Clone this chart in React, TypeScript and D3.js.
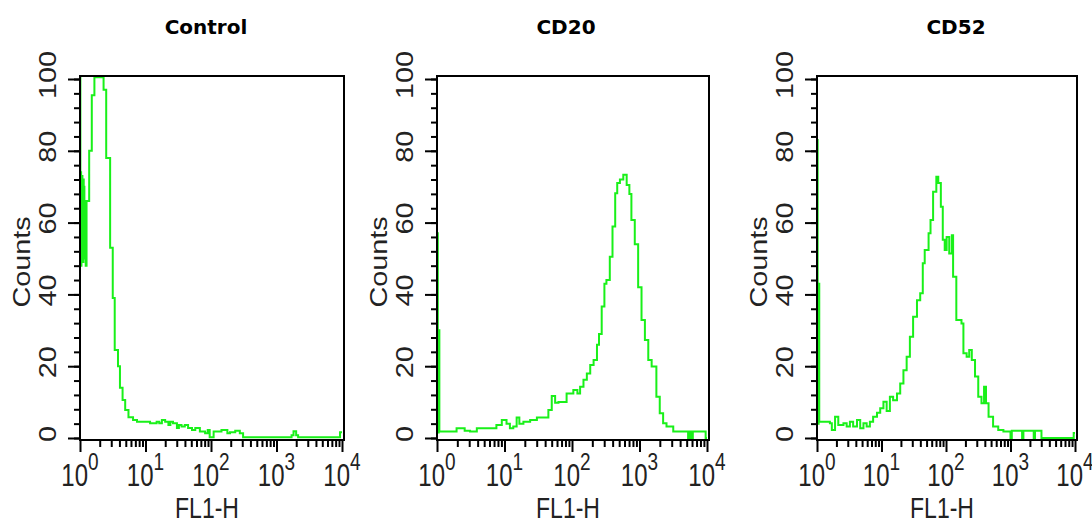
import React, { useEffect, useRef } from "react";
import * as d3 from "d3";

// FL1-H histograms, x in decades (log10), y in counts
const titles = ["Control", "CD20", "CD52"];

const controlLog = [0, 0, 0.006, 0.012, 0.017, 0.022, 0.027, 0.032, 0.037, 0.042, 0.047, 0.052, 0.057, 0.062, 0.067, 0.072, 0.077, 0.082, 0.087, 0.1, 0.14, 0.18, 0.22, 0.36, 0.4, 0.46, 0.5, 0.53, 0.58, 0.61, 0.65, 0.69, 0.74, 0.81, 0.87, 0.94, 1.07, 1.17, 1.21, 1.25, 1.3, 1.35, 1.38, 1.42, 1.48, 1.51, 1.55, 1.6, 1.65, 1.71, 1.76, 1.83, 1.91, 1.95, 1.98, 2.04, 2.16, 2.25, 2.29, 2.37, 2.44, 2.49, 3.23, 3.26, 3.3, 3.33, 3.97, 4];
const controlCounts = [0, 120, 62, 74, 48, 70, 55, 73, 52, 68, 49, 72, 56, 70, 50, 66, 53, 62, 48, 66, 80, 95.5, 100.5, 97, 78, 53, 39, 24.5, 20, 14, 10.6, 7.8, 5.8, 5, 4.5, 4.5, 4.1, 4.5, 4.1, 5, 4.5, 3.6, 4.5, 4.1, 2.8, 3.6, 3.2, 3.6, 2.8, 2.2, 2.8, 1.8, 1.3, 2.2, 0.2, 1.8, 2.2, 1.3, 1.6, 2, 1.3, 0.2, 0.8, 1.9, 0.8, 0.2, 1.6, 1.6];

const cd20Log = [0, 0, 0.012, 0.025, 0.035, 0.29, 0.41, 0.49, 0.59, 0.88, 0.96, 1.03, 1.08, 1.13, 1.18, 1.22, 1.28, 1.38, 1.48, 1.65, 1.7, 1.75, 1.8, 1.92, 2.02, 2.08, 2.12, 2.17, 2.22, 2.27, 2.32, 2.37, 2.4, 2.44, 2.48, 2.51, 2.56, 2.6, 2.64, 2.67, 2.71, 2.76, 2.81, 2.85, 2.88, 2.93, 2.98, 3.03, 3.08, 3.13, 3.18, 3.25, 3.3, 3.35, 3.4, 3.5, 3.72, 3.74, 3.77, 3.79, 3.98, 4];
const cd20Counts = [0, 57, 1.5, 30, 1.8, 2.7, 2, 1.8, 2.7, 3.6, 5, 4, 2.7, 3.2, 5.7, 4, 4.5, 5, 5.7, 7.8, 11.7, 9.8, 10, 12.4, 13.4, 12.4, 14.3, 16.2, 18, 20.3, 21.7, 26, 29, 36.6, 43, 44, 50.5, 58.9, 68.2, 71, 72, 73.3, 70.5, 68, 60.7, 54, 42, 32.9, 27.3, 21.7, 19.9, 11.5, 6.9, 4.1, 3.2, 1.8, 0, 1.8, 0, 1.8, 0, 0];

const cd52Log = [0, 0, 0.01, 0.025, 0.035, 0.2, 0.23, 0.28, 0.33, 0.41, 0.46, 0.51, 0.56, 0.62, 0.67, 0.72, 0.77, 0.82, 0.87, 0.93, 0.98, 1.03, 1.08, 1.13, 1.18, 1.24, 1.29, 1.34, 1.39, 1.44, 1.49, 1.55, 1.6, 1.64, 1.67, 1.73, 1.76, 1.8, 1.85, 1.88, 1.92, 1.95, 1.98, 2.01, 2.05, 2.09, 2.11, 2.16, 2.24, 2.27, 2.32, 2.36, 2.4, 2.45, 2.5, 2.55, 2.59, 2.62, 2.66, 2.73, 2.81, 2.89, 3, 3.02, 3.18, 3.2, 3.36, 3.38, 3.48, 3.98, 4];
const cd52Counts = [0, 83, 4, 43, 4.5, 4.1, 2.2, 5.9, 3.6, 4.1, 3.2, 4.5, 3.2, 5, 2.7, 4.1, 3.2, 4.5, 5.9, 7, 8.3, 10.1, 7.5, 11.5, 10.5, 12.4, 15.2, 18.9, 22.6, 28.2, 33.8, 38.4, 40.3, 48.7, 52.4, 57, 60.7, 68.6, 72.8, 71, 64.4, 55.2, 52.4, 56, 51.4, 56.5, 44.9, 32.9, 31.9, 23.6, 22.6, 24.5, 21.7, 17.1, 11.5, 9.7, 14.3, 9.7, 5.9, 3.2, 2.2, 1.8, 0, 2, 0, 2, 0, 2, 0, 1.4, 1.4];

const yLabels = [0, 20, 40, 60, 80, 100];
const decades = [0, 1, 2, 3, 4];

const W = 1092, H = 519;
const panelX = [[80, 342], [437, 707], [817, 1075]];
const titleX = [206, 566, 956];
const boxTop = 76, boxBottom = 440;
const yTop = 79, yZero = 438;
const green = "#19f019";
const textFont = "'Liberation Sans', Arial, sans-serif";

export default function App() {
  const svgRef = useRef<SVGSVGElement>(null);

  useEffect(() => {
    const svg = d3.select(svgRef.current);
    svg.selectAll("*").remove();

    const series = [
      { xs: controlLog, ys: controlCounts },
      { xs: cd20Log, ys: cd20Counts },
      { xs: cd52Log, ys: cd52Counts },
    ];

    const minorX: number[] = [];
    decades.slice(0, 4).forEach(k => {
      for (let m = 2; m <= 9; m++) minorX.push(m * Math.pow(10, k));
    });
    const minorY = d3.range(0, 101, 4);

    series.forEach((s, i) => {
      const [x0, x1] = panelX[i];
      const x = d3.scaleLog().domain([1, 1e4]).range([x0, x1]);
      const y = d3.scaleLinear().domain([0, 100]).range([yZero, yTop]);
      const g = svg.append("g");

      g.append("clipPath").attr("id", "clip" + i)
        .append("rect")
        .attr("x", x0).attr("y", boxTop)
        .attr("width", x1 + 2 - x0).attr("height", boxBottom - boxTop);

      // x axis ticks
      const xa = g.append("g").attr("transform", `translate(0,${boxBottom})`);
      xa.append("g").call(d3.axisBottom(x).tickValues(minorX).tickSize(7).tickFormat(() => ""));
      xa.append("g").call(d3.axisBottom(x).tickValues(decades.map(d => Math.pow(10, d))).tickSize(12).tickFormat(() => ""));
      xa.selectAll(".domain").remove();
      xa.selectAll("line").attr("stroke", "#000").attr("stroke-width", 2);

      // y axis ticks
      const ya = g.append("g").attr("transform", `translate(${x0},0)`);
      ya.append("g").call(d3.axisLeft(y).tickValues(minorY).tickSize(6).tickFormat(() => ""));
      ya.append("g").call(d3.axisLeft(y).tickValues(yLabels).tickSize(12).tickFormat(() => ""));
      ya.selectAll(".domain").remove();
      ya.selectAll("line").attr("stroke", "#000").attr("stroke-width", 2);

      // histogram
      const line = d3.line<number>()
        .x((d, j) => x(Math.pow(10, s.xs[j])))
        .y(d => y(d))
        .curve(d3.curveStepAfter);
      g.append("path")
        .attr("d", line(s.ys))
        .attr("fill", "none")
        .attr("stroke", green)
        .attr("stroke-width", 2)
        .attr("clip-path", `url(#clip${i})`);

      // box
      g.append("rect")
        .attr("x", x0).attr("y", boxTop)
        .attr("width", x1 + 2 - x0).attr("height", boxBottom - boxTop)
        .attr("fill", "none").attr("stroke", "#000").attr("stroke-width", 2);

      // y tick labels
      yLabels.forEach(v => {
        g.append("text")
          .attr("transform", `translate(${x0 - 24},${y(v) - 4}) rotate(-90) scale(1.2,1)`)
          .attr("text-anchor", "middle")
          .style("font-family", textFont).style("font-size", "24px")
          .attr("fill", "#222")
          .text(v);
      });

      g.append("text")
        .attr("transform", `translate(${x0 - 50},262) rotate(-90) scale(1.2,1)`)
        .attr("text-anchor", "middle")
        .style("font-family", textFont).style("font-size", "24px")
        .attr("fill", "#222")
        .text("Counts");

      // x tick labels 10^k
      decades.forEach(k => {
        const t = g.append("text")
          .attr("transform", `translate(${x(Math.pow(10, k))},486) scale(1,1.3)`)
          .attr("text-anchor", "middle")
          .style("font-family", textFont).style("font-size", "24px")
          .attr("fill", "#222");
        t.append("tspan").text("10");
        t.append("tspan").attr("dy", -12).style("font-size", "19px").text(k);
      });

      g.append("text")
        .attr("transform", `translate(${(x0 + x1) / 2 - 4},518) scale(1,1.25)`)
        .attr("text-anchor", "middle")
        .style("font-family", textFont).style("font-size", "23px")
        .attr("fill", "#222")
        .text("FL1-H");

      g.append("text")
        .attr("x", titleX[i]).attr("y", 34)
        .attr("text-anchor", "middle")
        .style("font-family", "'Comic Sans MS', 'DejaVu Sans', sans-serif")
        .style("font-size", "20px").style("font-weight", "bold")
        .text(titles[i]);
    });
  }, []);

  return (
    <svg ref={svgRef} width={W} height={H}
      style={{ position: "absolute", left: 0, top: 0, background: "#fff" }} />
  );
}
